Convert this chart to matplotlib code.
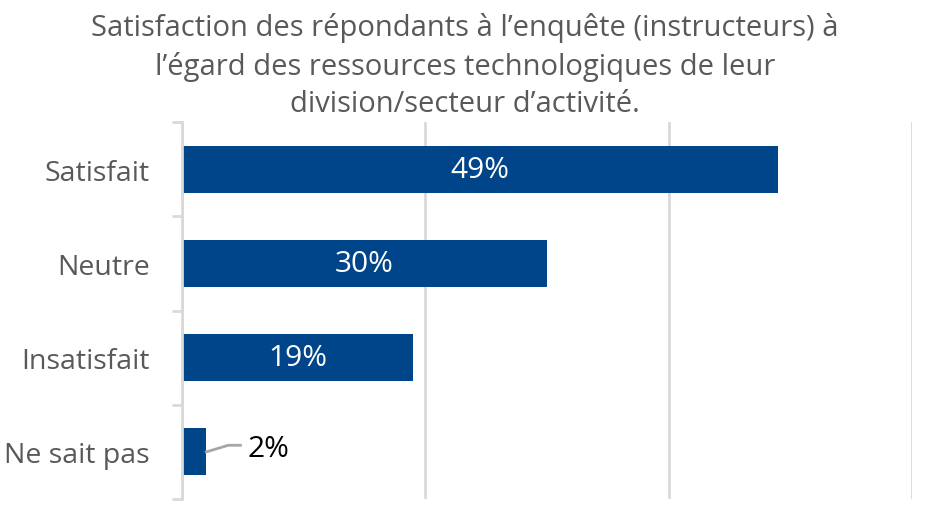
import matplotlib.pyplot as plt

# data
categories = ["Satisfait", "Neutre", "Insatisfait", "Ne sait pas"]
values = [49, 30, 19, 2]
title = ("Satisfaction des répondants à l’enquête (instructeurs) à\n"
         "l’égard des ressources technologiques de leur\n"
         "division/secteur d’activité.")

plt.rcParams['font.family'] = ['Open Sans', 'DejaVu Sans']

fig = plt.figure(figsize=(9.3, 5.1), dpi=100)
# axes: left 182px, right 912px, top 123px, bottom 500px
ax = fig.add_axes([182/930, 1 - 500/510, (912-182)/930, (500-123)/510])

bar_color = "#004489"
grey = "#595959"
y = list(range(len(categories)))
ax.barh(y, values, height=0.5, color=bar_color)
ax.set_xlim(0, 60)
ax.set_ylim(len(categories) - 0.5, -0.5)

ax.set_xticks([0, 20, 40, 60])
ax.xaxis.grid(True, color="#d9d9d9", linewidth=2)
ax.set_axisbelow(True)
ax.tick_params(axis='x', length=0, labelbottom=False)

# category boundaries as minor ticks on the left spine
ax.set_yticks(y)
ax.set_yticklabels(categories, fontsize=20.5, color=grey)
ax.set_yticks([i - 0.5 for i in range(len(categories) + 1)], minor=True)
ax.tick_params(axis='y', which='major', length=0, pad=23)
ax.tick_params(axis='y', which='minor', length=7, width=2, color="#d9d9d9")

for s in ["top", "right", "bottom"]:
    ax.spines[s].set_visible(False)
ax.spines["left"].set_color("#d9d9d9")
ax.spines["left"].set_linewidth(2)

for i, v in enumerate(values):
    if v >= 10:
        ax.text(v / 2, i, f"{v}%", ha="center", va="center",
                color="white", fontsize=21.5)
    else:
        ax.plot([v, v + 1.8, v + 2.8], [i, i - 0.07, i - 0.07],
                color="#a6a6a6", linewidth=2, clip_on=False)
        ax.text(v + 3.4, i - 0.04, f"{v}%", ha="left", va="center",
                color="black", fontsize=21.5)

fig.text(0.5, 1 - 66/510, title, ha="center", va="center",
         fontsize=21, color=grey, linespacing=1.38)

fig.savefig("out.png", dpi=100)
